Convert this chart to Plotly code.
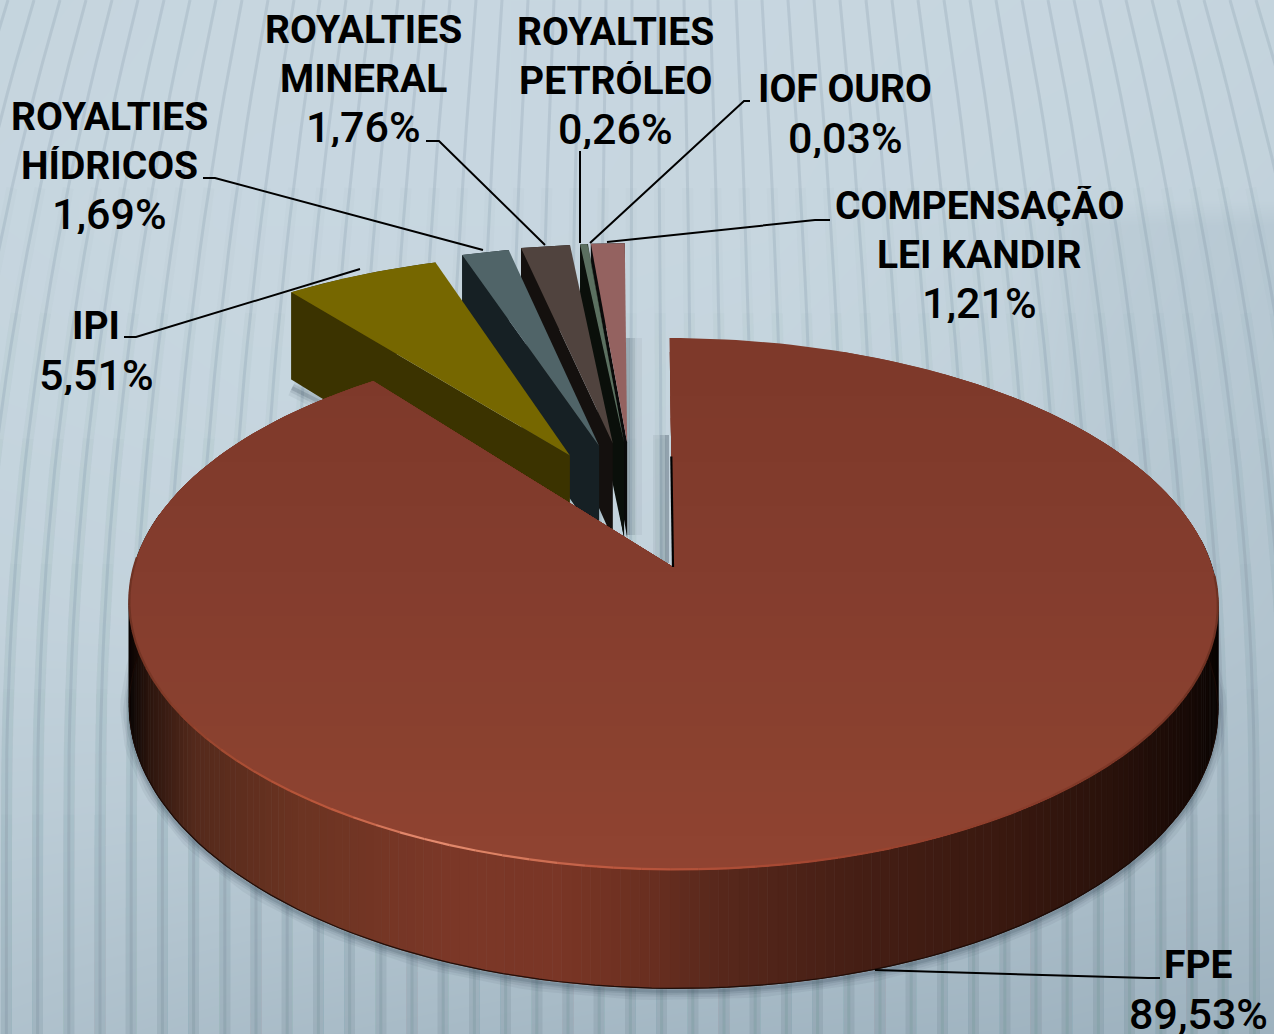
import numpy as np
import plotly.graph_objects as go

# ---------- data ----------
categories = ["FPE", "IPI", "ROYALTIES HÍDRICOS", "ROYALTIES MINERAL",
              "ROYALTIES PETRÓLEO", "IOF OURO", "COMPENSAÇÃO LEI KANDIR"]
values = [89.53, 5.51, 1.69, 1.76, 0.26, 0.03, 1.21]
value_labels = ["89,53%", "5,51%", "1,69%", "1,76%", "0,26%", "0,03%", "1,21%"]
label_lines = [["FPE"], ["IPI"], ["ROYALTIES", "HÍDRICOS"], ["ROYALTIES", "MINERAL"],
               ["ROYALTIES", "PETRÓLEO"], ["IOF OURO"], ["COMPENSAÇÃO", "LEI KANDIR"]]

# ---------- styles ----------
top_colors = ["#87402e", "#766700", "#506468", "#50433e", "#5b7060", "#3c4c3c", "#946260"]
side_colors = ["#000000", "#3b3300", "#162024", "#14100e", "#0a0f0a", "#050505", "#0a0a0a"]
pull = 0.5
sideways = [0, 0.024, -0.024, -0.05, -0.059, -0.064, -0.077]
apex_shift = (0.009, 0.012)
label_first_lines = [(1198, 965), (96, 326), (109, 117), (363, 30), (615, 32), (845, 89), (979, 206)]
line_step = 48.5
leaders = [
    [(1160, 978), (1148, 978), (875, 970)],
    [(124, 337), (136, 337), (360, 269)],
    [(203, 178), (215, 178), (483, 250)],
    [(426, 141), (439, 141), (545, 245)],
    [(580, 151), (580, 243)],
    [(750, 101), (744, 101), (590, 243)],
    [(830, 220), (815, 220), (607, 242)],
]
W, H = 1274, 1034
CX, R, SKEW, C, A, B, DEPTH = 673, 539, -4, 0.139, -182, 567, 102


def proj(u, v, z=0.0):
    u, v, z = np.asarray(u, float), np.asarray(v, float), np.asarray(z, float)
    d = 1 + C * v
    return CX + (R * u + SKEW * v) / d, (A * v + B + DEPTH * z) / d


def mix(stops, x):
    xs = [s[0] for s in stops]
    rgb = [np.interp(x, xs, [s[1][i] for s in stops]) for i in range(3)]
    return "rgb(%d,%d,%d)" % tuple(int(c) for c in rgb)


def poly(x, y, color, line=0):
    return go.Scatter(x=list(x), y=list(y), mode="lines", fill="toself", fillcolor=color,
                      line=dict(width=line, color=color), hoverinfo="skip", showlegend=False)


def path(x, y, color, width):
    return go.Scatter(x=list(x), y=list(y), mode="lines", line=dict(color=color, width=width),
                      hoverinfo="skip", showlegend=False)


def clip_below(px, py, y0):
    """keep the part of a polygon lying below the screen line y = y0"""
    ox, oy = [], []
    n = len(px)
    for i in range(n):
        x1, y1, x2, y2 = px[i], py[i], px[(i + 1) % n], py[(i + 1) % n]
        if y1 >= y0:
            ox.append(x1); oy.append(y1)
        if (y1 >= y0) != (y2 >= y0):
            t = (y0 - y1) / (y2 - y1)
            ox.append(x1 + t * (x2 - x1)); oy.append(y0)
    return ox, oy


fig = go.Figure()

# ---------- background ----------
bg_x = [0, 255, 510, 765, 1020, 1090, 1274]
bg_y = [0, 200, 225, 400, 620, 820, 1034]
bg = [[0.93, 0.96, 0.97, 0.97, 0.95, 0.95, 0.92],
      [0.95, 0.97, 0.97, 0.96, 0.93, 0.92, 0.88],
      [0.95, 0.97, 0.97, 0.96, 0.90, 0.78, 0.70],
      [0.93, 0.95, 0.95, 0.92, 0.86, 0.74, 0.66],
      [0.88, 0.90, 0.90, 0.84, 0.74, 0.68, 0.60],
      [0.75, 0.72, 0.68, 0.62, 0.56, 0.53, 0.48],
      [0.55, 0.45, 0.38, 0.32, 0.28, 0.26, 0.22]]
fig.add_trace(go.Heatmap(x=bg_x, y=bg_y, z=bg,
                         zmin=0, zmax=1, zsmooth="best", showscale=False, hoverinfo="skip",
                         colorscale=[[0, "#90a6b4"], [1, "#c9d8e1"]]))
stripe_y = np.linspace(0, 1034, 34)
thin_x, thin_y = [], []
layers = {k: ([], []) for k in range(6, 30, 4)}
for x0 in range(-200, 1500, 26):
    yy = np.minimum(stripe_y, 800)
    xx = x0 + (x0 - 640) * 0.0005 * (yy - yy ** 2 / 1600)
    thin_x += list(xx) + [None]
    thin_y += list(stripe_y) + [None]
    for k, (lx, ly) in layers.items():
        lx += list(xx[k:]) + [None]
        ly += list(stripe_y[k:]) + [None]
fig.add_trace(path(thin_x, thin_y, "rgba(95,120,137,0.16)", 3))
for lx, ly in layers.values():
    fig.add_trace(path(lx, ly, "rgba(95,120,137,0.025)", 11))

# ---------- geometry from the values ----------
ang = np.cumsum([0] + values) / 100 * 2 * np.pi


def arc(a0, a1, n):
    t = np.linspace(a0, a1, n)
    return np.sin(t), np.cos(t)


# ---------- soft shadows ----------
ua, va = arc(np.radians(78), np.radians(285), 120)
bx, by = proj(ua, va, 1)
for w, al in ((18, 0.07), (12, 0.09), (7, 0.12), (3, 0.16)):
    fig.add_trace(path(bx, by + 3, "rgba(50,70,85,%.2f)" % al, w))
for w, al in ((16, 0.08), (9, 0.12), (4, 0.2)):
    fig.add_trace(path([669 - w / 2] * 2, [435, 563], "rgba(60,75,90,%.2f)" % al, w))
    fig.add_trace(path([626 + w / 2] * 2, [338, 535], "rgba(60,75,90,%.2f)" % (al * 0.8), w))
    fig.add_trace(path([292, 320], [388, 402], "rgba(60,75,90,%.2f)" % al, w))

# ---------- pulled slices, right to left ----------
for i in range(len(values) - 1, 0, -1):
    a0, a1 = ang[i], ang[i + 1]
    mid = (a0 + a1) / 2
    ou, ov = pull * np.sin(mid) + sideways[i], pull * np.cos(mid)
    u, v = arc(a0, a1, 14)
    u, v = u + ou, v + ov
    ou, ov = ou + apex_shift[0], ov + apex_shift[1]
    # outer wall, left radial face, then the top
    wx, wy = proj(np.r_[u, u[::-1]], np.r_[v, v[::-1]], np.r_[np.zeros(14), np.ones(14)])
    fig.add_trace(poly(wx, wy, side_colors[i]))
    fx, fy = proj([ou, u[0], u[0], ou], [ov, v[0], v[0], ov], [0, 0, 1, 1])
    fig.add_trace(poly(fx, fy, side_colors[i]))
    tx, ty = proj(np.r_[ou, u], np.r_[ov, v])
    fig.add_trace(poly(tx, ty, top_colors[i]))

# ---------- FPE wall ----------
wall_stops = [(128, (8, 4, 3)), (150, (45, 22, 14)), (195, (85, 42, 28)), (300, (108, 52, 34)),
              (450, (124, 56, 40)), (560, (122, 54, 38)), (640, (108, 48, 33)), (720, (88, 40, 28)),
              (850, (70, 31, 21)), (1000, (58, 25, 16)), (1110, (42, 18, 11)), (1190, (24, 10, 6)),
              (1220, (8, 4, 2))]
rim_stops = [(128, (110, 50, 35)), (240, (170, 78, 52)), (340, (190, 90, 62)), (420, (230, 140, 112)),
             (480, (225, 135, 105)), (600, (190, 90, 65)), (800, (165, 72, 50)), (1000, (140, 62, 44)),
             (1220, (110, 50, 35))]
edges = np.linspace(np.radians(84), np.radians(282), 220)
for a0, a1 in zip(edges[:-1], edges[1:]):
    u, v = arc(a0, a1, 4)
    x, y = proj(np.r_[u, u[::-1]], np.r_[v, v[::-1]], np.r_[np.zeros(4), np.ones(4)])
    fig.add_trace(poly(x, y, mix(wall_stops, x.mean()), line=1))
fig.add_trace(path(bx, by, "rgba(25,10,6,0.9)", 1.2))

# ---------- FPE top ----------
u, v = arc(ang[0], ang[1], 240)
px, py = proj(np.r_[0, u], np.r_[0, v])
px, py = list(px), list(py)
top_stops = [(338, (126, 57, 42)), (560, (132, 61, 46)), (760, (140, 66, 48)), (880, (146, 68, 50))]
for yk in np.arange(330, 880, 22):
    cx_, cy_ = clip_below(px, py, yk)
    fig.add_trace(poly(cx_, cy_, mix(top_stops, yk)))

# rim highlight
edges = np.linspace(np.radians(92), np.radians(272), 70)
for a0, a1 in zip(edges[:-1], edges[1:]):
    u, v = arc(a0, a1, 4)
    x, y = proj(u, v)
    fig.add_trace(path(x, y - 0.5, mix(rim_stops, x.mean()), 2.2))
fx, fy = proj([0, 0], [0, 0.45], [0, 0])
fig.add_trace(path(fx, fy, "#000000", 2.2))

# ---------- leaders ----------
for pts in leaders:
    fig.add_trace(path([p[0] for p in pts], [p[1] for p in pts], "#000000", 2))

# ---------- labels ----------
for lines, val, (cx_, cy_) in zip(label_lines, value_labels, label_first_lines):
    for k, text in enumerate(lines + [val]):
        is_value = text == val
        fig.add_annotation(x=cx_, y=cy_ + k * line_step, xref="x", yref="y", showarrow=False,
                           xanchor="center", yanchor="middle", text=text, height=40,
                           font=dict(family="Roboto", size=43 if is_value else 39, color="#000000",
                                     weight=500 if is_value else "bold"))

fig.update_layout(width=W, height=H, margin=dict(l=0, r=0, t=0, b=0), showlegend=False,
                  paper_bgcolor="#c4d3dc", plot_bgcolor="#c4d3dc",
                  xaxis=dict(range=[0, W], visible=False, fixedrange=True),
                  yaxis=dict(range=[H, 0], visible=False, fixedrange=True))
fig.write_html("out.html", config=dict(displayModeBar=False),
               post_script="document.body.style.margin='0';document.documentElement.style.overflow='hidden';")
